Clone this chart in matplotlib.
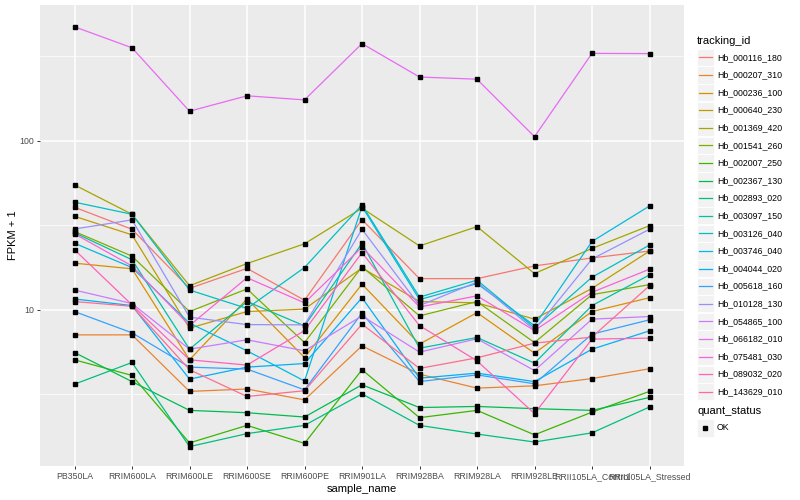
import matplotlib
matplotlib.use("Agg")
import matplotlib.pyplot as plt
from matplotlib.patches import Rectangle
from matplotlib.lines import Line2D

plt.rcParams['font.family'] = ['Liberation Sans', 'DejaVu Sans']

samples = ["PB350LA", "RRIM600LA", "RRIM600LE", "RRIM600SE", "RRIM600PE", "RRIM901LA",
           "RRIM928BA", "RRIM928LA", "RRIM928LE", "RRII105LA_Control", "RRII105LA_Stressed"]

tracking_ids = ["Hb_000116_180", "Hb_000207_310", "Hb_000236_100", "Hb_000640_230",
                "Hb_001369_420", "Hb_001541_260", "Hb_002007_250", "Hb_002367_130",
                "Hb_002893_020", "Hb_003097_150", "Hb_003126_040", "Hb_003746_040",
                "Hb_004044_020", "Hb_005618_160", "Hb_010128_130", "Hb_054865_100",
                "Hb_066182_010", "Hb_075481_030", "Hb_089032_020", "Hb_143629_010"]

# ggplot default hue palette, 20 levels
colors = ["#F8766D", "#EA8331", "#D89000", "#C09B00", "#A3A500", "#7CAE00", "#39B600",
          "#00BB4E", "#00BF7D", "#00C1A3", "#00BFC4", "#00BAE0", "#00B0F6", "#35A2FF",
          "#9590FF", "#C77CFF", "#E76BF3", "#FA62DB", "#FF62BC", "#FF6C91"]

# FPKM + 1
hb_000116_180 = [40.5, 30.0, 13.4, 17.6, 11.4, 34.2, 15.3, 15.3, 18.2, 20.3, 22.3]
hb_000207_310 = [7.11, 7.11, 3.29, 3.40, 2.93, 6.12, 4.16, 3.44, 3.55, 3.92, 4.48]
hb_000236_100 = [18.9, 17.5, 5.06, 11.6, 5.22, 14.2, 6.27, 9.63, 5.54, 9.77, 11.8]
hb_000640_230 = [35.8, 27.8, 7.79, 9.77, 10.1, 17.7, 11.2, 11.0, 8.81, 13.4, 22.3]
hb_001369_420 = [54.9, 36.8, 13.9, 18.8, 24.6, 40.0, 23.9, 31.1, 16.4, 23.1, 31.5]
hb_001541_260 = [29.1, 20.8, 9.77, 13.3, 6.40, 18.0, 9.21, 11.2, 6.40, 12.3, 14.1]
hb_002007_250 = [5.06, 4.09, 1.63, 2.07, 1.62, 4.42, 2.30, 2.54, 1.82, 2.48, 3.29]
hb_002367_130 = [5.59, 3.76, 2.54, 2.46, 2.32, 3.60, 2.64, 2.68, 2.60, 2.54, 3.03]
hb_002893_020 = [3.63, 4.88, 1.55, 1.85, 2.07, 3.18, 2.07, 1.84, 1.65, 1.87, 2.66]
hb_003097_150 = [28.6, 19.8, 5.85, 11.2, 8.04, 24.8, 5.93, 6.86, 4.84, 10.6, 16.1]
hb_003126_040 = [43.4, 36.8, 13.1, 10.2, 17.8, 41.8, 11.9, 15.0, 7.82, 15.6, 24.2]
hb_003746_040 = [24.8, 17.8, 8.34, 5.72, 3.79, 40.9, 11.5, 14.3, 8.07, 25.4, 41.2]
hb_004044_020 = [11.6, 10.6, 3.89, 4.58, 4.81, 11.8, 3.94, 4.22, 3.76, 5.85, 7.51]
hb_005618_160 = [9.77, 7.31, 4.58, 4.46, 3.36, 9.56, 3.76, 4.12, 3.65, 7.18, 8.73]
hb_010128_130 = [30.1, 34.1, 9.05, 8.18, 8.15, 30.0, 10.6, 14.6, 7.61, 20.0, 30.0]
hb_054865_100 = [13.1, 10.9, 5.85, 6.65, 5.72, 9.21, 5.62, 6.74, 4.37, 8.81, 9.13]
hb_066182_010 = [474, 356, 150, 185, 175, 377, 239, 232, 106, 330, 329]
hb_075481_030 = [28.2, 18.2, 8.07, 15.5, 11.0, 23.5, 10.4, 12.1, 7.54, 12.7, 17.4]
hb_089032_020 = [22.7, 10.7, 5.06, 4.71, 7.54, 21.8, 8.07, 4.99, 2.43, 6.71, 6.80]
hb_143629_010 = [11.2, 10.5, 4.42, 3.07, 3.32, 8.23, 4.50, 5.20, 6.35, 6.90, 13.9]

series = [hb_000116_180, hb_000207_310, hb_000236_100, hb_000640_230, hb_001369_420,
          hb_001541_260, hb_002007_250, hb_002367_130, hb_002893_020, hb_003097_150,
          hb_003126_040, hb_003746_040, hb_004044_020, hb_005618_160, hb_010128_130,
          hb_054865_100, hb_066182_010, hb_075481_030, hb_089032_020, hb_143629_010]

fig = plt.figure(figsize=(8, 5), dpi=100)
ax = fig.add_axes([40 / 800, 34 / 500, 644 / 800, 461 / 500])
ax.set_facecolor('#EBEBEB')
for s in ax.spines.values():
    s.set_visible(False)

x = list(range(len(samples)))
for vals, c in zip(series, colors):
    ax.plot(x, vals, color=c, lw=0.9, zorder=2)
for vals in series:
    ax.plot(x, vals, 's', color='black', ms=2.4, zorder=3)

ax.set_yscale('log')
ax.set_ylim(1.19, 638)
ax.set_xlim(-0.6, 10.6)
ax.set_yticks([10, 100])
ax.set_yticklabels(['10', '100'])
ax.set_yticks([10 ** 0.5, 10 ** 1.5, 10 ** 2.5], minor=True)
ax.set_yticklabels([], minor=True)
ax.set_xticks(x)
ax.set_xticklabels(samples)
ax.yaxis.grid(True, which='major', color='white', lw=1.1)
ax.yaxis.grid(True, which='minor', color='white', lw=0.5)
ax.xaxis.grid(True, which='major', color='white', lw=1.1)
ax.set_axisbelow(True)
ax.tick_params(which='major', length=2.5, width=0.7, color='#333333',
               labelsize=6.3, labelcolor='#4D4D4D', pad=2)
ax.tick_params(which='minor', length=0)
ax.set_xlabel('sample_name', fontsize=8, labelpad=2)
ax.set_ylabel('FPKM + 1', fontsize=8, labelpad=1)

# legend drawn by hand in pixel coords
lax = fig.add_axes([0, 0, 1, 1])
lax.set_xlim(0, 800)
lax.set_ylim(500, 0)
lax.axis('off')
lax.text(697, 40.5, 'tracking_id', fontsize=8, va='center', ha='left')
for i, (name, c) in enumerate(zip(tracking_ids, colors)):
    yc = 57.3 + i * 17.6
    lax.add_patch(Rectangle((697, yc - 8.6), 16.5, 17.2, fc='#F2F2F2', ec='white', lw=0.6))
    lax.add_line(Line2D([698.5, 711.5], [yc, yc], color=c, lw=0.9))
    lax.text(717, yc, name, fontsize=6.3, va='center', ha='left')

lax.text(697, 411.5, 'quant_status', fontsize=8, va='center', ha='left')
lax.add_patch(Rectangle((697, 428 - 8.6), 16.5, 17.2, fc='#F2F2F2', ec='white', lw=0.6))
lax.plot([705.2], [428], 's', color='black', ms=2.4)
lax.text(717, 428, 'OK', fontsize=6.3, va='center', ha='left')

fig.savefig('out.png', dpi=100)
